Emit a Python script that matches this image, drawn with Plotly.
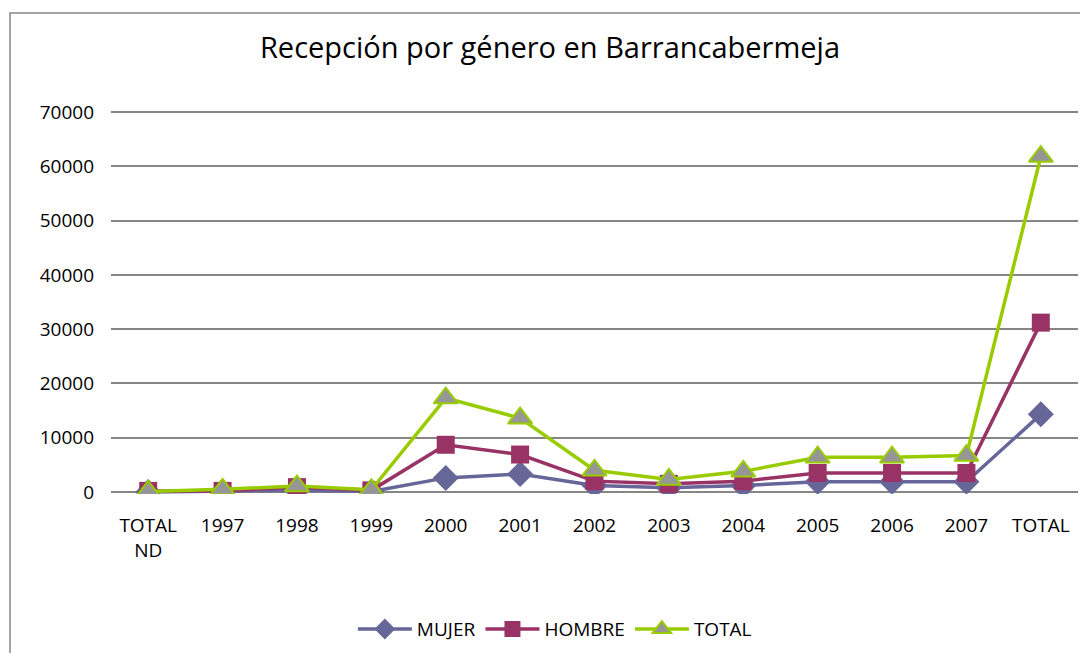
import plotly.graph_objects as go

categories = ["TOTAL<br>ND", "1997", "1998", "1999", "2000", "2001", "2002", "2003",
              "2004", "2005", "2006", "2007", "TOTAL"]
mujer = [0, 100, 300, 100, 2600, 3300, 1200, 800, 1200, 1900, 1900, 1900, 14300]
hombre = [200, 200, 900, 300, 8700, 6900, 2000, 1500, 2000, 3500, 3500, 3500, 31200]
total = [100, 500, 1100, 400, 17300, 13600, 4000, 2300, 3800, 6400, 6400, 6700, 61800]
y_ticks = [0, 10000, 20000, 30000, 40000, 50000, 60000, 70000]

# page body adds an 8px offset
W, H = 1080, 645
L, R, T, B = 103, 10, 102, 159
PW, PH = W - L - R, H - T - B

fig = go.Figure()
fig.add_trace(go.Scatter(
    x=categories, y=mujer, name="MUJER", mode="lines+markers",
    line=dict(color="#666699", width=3.5),
    marker=dict(symbol="diamond", size=20, color="#666699")))
fig.add_trace(go.Scatter(
    x=categories, y=hombre, name="HOMBRE", mode="lines+markers",
    line=dict(color="#993366", width=3.5),
    marker=dict(symbol="square", size=18, color="#993366")))
fig.add_trace(go.Scatter(
    x=categories, y=total, name="TOTAL", mode="lines+markers",
    line=dict(color="#99CC00", width=3.5),
    marker=dict(symbol="triangle-up", size=21, color="#969696",
                line=dict(color="#99CC00", width=2))))

fig.update_layout(
    width=W, height=H,
    margin=dict(l=L, r=R, t=T, b=B, autoexpand=False),
    paper_bgcolor="white", plot_bgcolor="white",
    font=dict(family="Open Sans, Liberation Sans, sans-serif", size=19, color="#000000"),
    title=dict(text="Recepción por género en Barrancabermeja",
               x=542 / W, xanchor="center", xref="container",
               y=1 - 40 / H, yanchor="middle", yref="container",
               font=dict(size=29, color="#000000")),
    showlegend=True,
    legend=dict(orientation="h", x=0.459, xanchor="center", y=-0.352, yanchor="middle",
                font=dict(size=19), itemwidth=54, bgcolor="rgba(0,0,0,0)"),
    shapes=[dict(type="rect", xref="paper", yref="paper",
                 x0=-(L - 2) / PW, x1=1 + (R + 2) / PW,
                 y0=-(B + 20) / PH, y1=1 + (T - 5) / PH,
                 line=dict(color="#868686", width=1.5), layer="below")],
)
fig.update_xaxes(type="category", range=[-0.5, 12.5], showgrid=False, showline=False,
                 ticks="", tickfont=dict(size=19), zeroline=False, automargin=False,
                 ticklabelstandoff=18)
fig.update_yaxes(range=[-370, 70370], tickvals=y_ticks, ticktext=[str(v) for v in y_ticks],
                 showgrid=True, gridcolor="#868686", gridwidth=1.8, zeroline=False,
                 showline=False, ticks="", tickfont=dict(size=19), ticklabelstandoff=16,
                 automargin=False)

fig.write_html("out.html")
